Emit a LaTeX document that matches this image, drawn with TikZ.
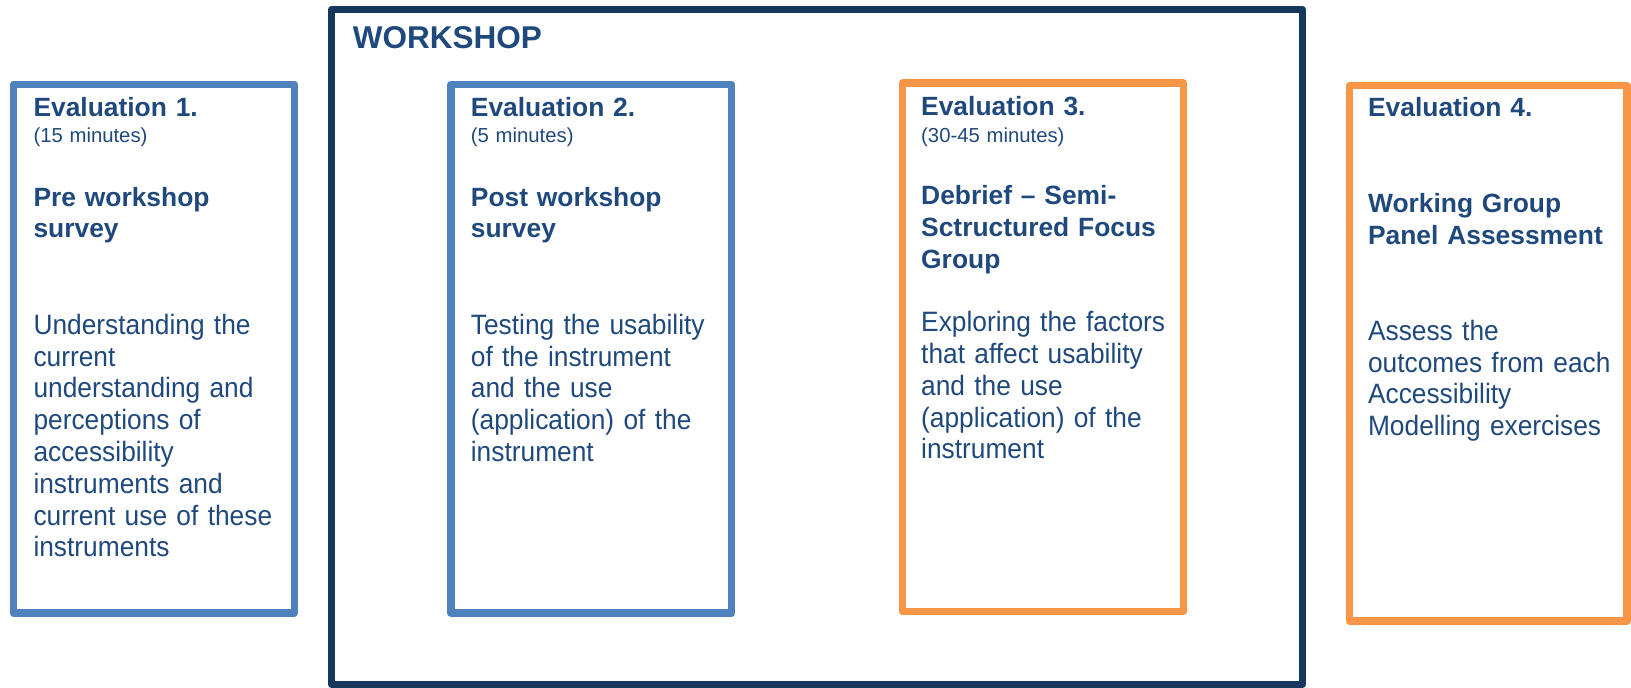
\documentclass[tikz,border=0pt]{standalone}
\usepackage{fontspec}
\setmainfont{Liberation Sans}
\newfontfamily\bodyfont{Liberation Sans}[FakeStretch=0.94]
\usetikzlibrary{positioning, calc}
\definecolor{evblue}{HTML}{4F81BD}
\definecolor{evorange}{HTML}{F79646}
\definecolor{wsnavy}{HTML}{17375E}
\definecolor{txtnavy}{HTML}{1F497D}

\begin{document}
\begin{tikzpicture}[
        x = 1pt, y = -1pt,
        line width = 7.5pt,
        line join = round,
        evalbox/.style = {
            draw,
            rectangle,
            minimum width = 280.8pt,
            minimum height = 528.5pt,
            inner sep = 0pt
        },
        frame/.style = {
            draw = wsnavy,
            rectangle,
            line width = 6.8pt,
            minimum width = 971pt,
            minimum height = 675pt,
            inner sep = 0pt
        },
        txt/.style = {
            anchor = base west,
            inner sep = 0pt,
            text = txtnavy,
            align = left,
            text width = 268pt,
            font = \bodyfont\fontsize{28}{31.8}\selectfont
        },
        ttl/.style = {txt, font = \fontsize{26.4}{31.7}\selectfont\bfseries},
        mins/.style = {txt, font = \fontsize{20.3}{23}\selectfont}
    ]

        \useasboundingbox (0,0) rectangle (1631,688);

        % outer workshop frame
        \node[frame] (workshop) at (817,347) {};
        \node[ttl, font = \fontsize{31.5}{36}\selectfont\bfseries] (wslabel)
            at ($(workshop.north west)+(21,42.2)$) {WORKSHOP};

        % the four evaluation boxes
        \node[evalbox, draw = evblue] (eval1) at (153.9,348.75) {};
        \node[evalbox, draw = evblue] (eval2) at (591.3,348.75) {};
        \node[evalbox, draw = evorange] (eval3) at (1042.9,347.4) {};
        \node[evalbox, draw = evorange, minimum width = 277.7pt, minimum height = 535.5pt] (eval4) at (1488.2,353.25) {};

        % evaluation 1
        \node[ttl] (ttl1) at ($(eval1.north west)+(20,36.2)$) {Evaluation 1.};
        \node[mins] (min1) at ($(ttl1.base west)+(0,26)$) {(15 minutes)};
        \node[ttl] (head1) at ($(ttl1.base west)+(0,89.3)$) {Pre workshop\\survey};
        \node[txt] (body1) at ($(ttl1.base west)+(0,217.3)$)
            {Understanding the\\current\\understanding and\\perceptions of\\accessibility\\instruments and\\current use of these\\instruments};

        % evaluation 2
        \node[ttl] (ttl2) at ($(eval2.north west)+(20,36.2)$) {Evaluation 2.};
        \node[mins] (min2) at ($(ttl2.base west)+(0,26)$) {(5 minutes)};
        \node[ttl] (head2) at ($(ttl2.base west)+(0,89.3)$) {Post workshop\\survey};
        \node[txt] (body2) at ($(ttl2.base west)+(0,217.3)$)
            {Testing the usability\\of the instrument\\and the use\\(application) of the\\instrument};

        % evaluation 3
        \node[ttl] (ttl3) at ($(eval3.north west)+(18.7,36.2)$) {Evaluation 3.};
        \node[mins] (min3) at ($(ttl3.base west)+(0,26.7)$) {(30-45 minutes)};
        \node[ttl] (head3) at ($(ttl3.base west)+(0,89.3)$) {Debrief -- Semi-\\Sctructured Focus\\Group};
        \node[txt] (body3) at ($(ttl3.base west)+(0,216)$)
            {Exploring the factors\\that affect usability\\and the use\\(application) of the\\instrument};

        % evaluation 4
        \node[ttl] (ttl4) at ($(eval4.north west)+(18.7,34.5)$) {Evaluation 4.};
        \node[ttl] (head4) at ($(ttl4.base west)+(0,96.7)$) {Working Group\\Panel Assessment};
        \node[txt] (body4) at ($(ttl4.base west)+(0,224)$)
            {Assess the\\outcomes from each\\Accessibility\\Modelling exercises};

    \end{tikzpicture}
\end{document}
